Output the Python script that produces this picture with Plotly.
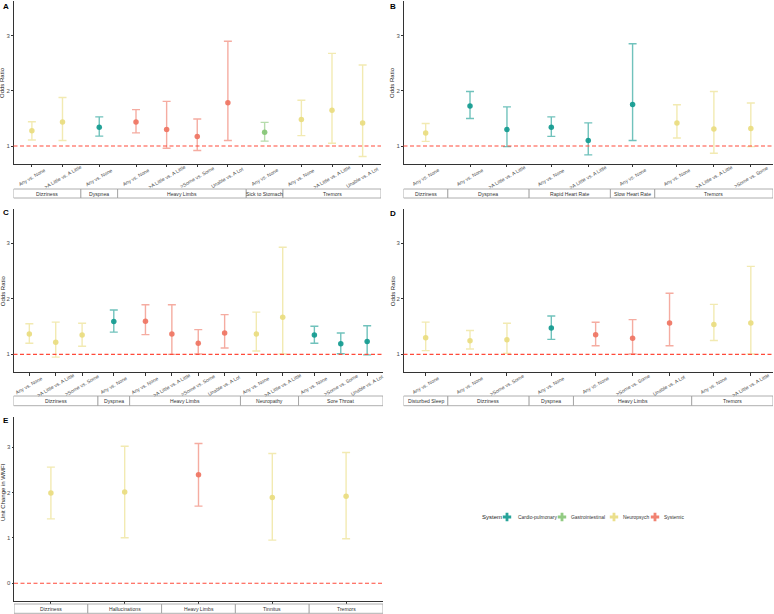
import plotly.graph_objects as go

W, H = 774, 614

# ---------------- DATA ----------------
A_symptom = ["Dizziness", "Dizziness", "Dyspnea", "Heavy Limbs", "Heavy Limbs", "Heavy Limbs", "Heavy Limbs",
             "Sick to Stomach", "Tremors", "Tremors", "Tremors"]
A_contrast = ["Any vs. None", ">A Little vs. A Little", "Any vs. None", "Any vs. None", ">A Little vs. A Little",
              ">Some vs. Some", "Unable vs. A Lot", "Any vs. None", "Any vs. None", ">A Little vs. A Little",
              "Unable vs. A Lot"]
A_est = [1.28, 1.435, 1.34, 1.435, 1.30, 1.175, 1.785, 1.25, 1.48, 1.65, 1.42]
A_lo = [1.11, 1.10, 1.18, 1.24, 0.96, 0.92, 1.10, 1.09, 1.19, 1.05, 0.81]
A_hi = [1.44, 1.88, 1.53, 1.66, 1.81, 1.49, 2.90, 1.43, 1.83, 2.68, 2.47]
A_system = ["Neuropsych", "Neuropsych", "Cardio-pulmonary", "Systemic", "Systemic", "Systemic", "Systemic",
            "Gastrointestinal", "Neuropsych", "Neuropsych", "Neuropsych"]

B_symptom = ["Dizziness", "Dyspnea", "Dyspnea", "Rapid Heart Rate", "Rapid Heart Rate", "Slow Heart Rate",
             "Tremors", "Tremors", "Tremors"]
B_contrast = ["Any vs. None", "Any vs. None", ">A Little vs. A Little", "Any vs. None", ">A Little vs. A Little",
              "Any vs. None", "Any vs. None", ">A Little vs. A Little", ">Some vs. Some"]
B_est = [1.235, 1.725, 1.30, 1.34, 1.10, 1.755, 1.42, 1.31, 1.32]
B_lo = [1.085, 1.50, 0.99, 1.175, 0.84, 1.10, 1.145, 0.87, 0.99]
B_hi = [1.41, 1.99, 1.71, 1.53, 1.42, 2.855, 1.75, 1.99, 1.78]
B_system = ["Neuropsych", "Cardio-pulmonary", "Cardio-pulmonary", "Cardio-pulmonary", "Cardio-pulmonary",
            "Cardio-pulmonary", "Neuropsych", "Neuropsych", "Neuropsych"]

C_symptom = ["Dizziness", "Dizziness", "Dizziness", "Dyspnea", "Heavy Limbs", "Heavy Limbs", "Heavy Limbs",
             "Heavy Limbs", "Neuropathy", "Neuropathy", "Sore Throat", "Sore Throat", "Sore Throat"]
C_contrast = ["Any vs. None", ">A Little vs. A Little", ">Some vs. Some", "Any vs. None", "Any vs. None",
              ">A Little vs. A Little", ">Some vs. Some", "Unable vs. A Lot", "Any vs. None",
              ">A Little vs. A Little", "Any vs. None", ">Some vs. Some", "Unable vs. A Lot"]
C_est = [1.366, 1.22, 1.35, 1.59, 1.595, 1.366, 1.20, 1.385, 1.366, 1.667, 1.35, 1.19, 1.23]
C_lo = [1.20, 0.95, 1.145, 1.40, 1.355, 1.00, 1.005, 1.115, 1.06, 1.005, 1.20, 1.01, 0.99]
C_hi = [1.55, 1.58, 1.56, 1.80, 1.895, 1.895, 1.445, 1.715, 1.76, 2.93, 1.505, 1.385, 1.515]
C_system = ["Neuropsych", "Neuropsych", "Neuropsych", "Cardio-pulmonary", "Systemic", "Systemic", "Systemic",
            "Systemic", "Neuropsych", "Neuropsych", "Cardio-pulmonary", "Cardio-pulmonary", "Cardio-pulmonary"]

D_symptom = ["Disturbed Sleep", "Dizziness", "Dizziness", "Dyspnea", "Heavy Limbs", "Heavy Limbs", "Heavy Limbs",
             "Tremors", "Tremors"]
D_contrast = ["Any vs. None", "Any vs. None", ">Some vs. Some", "Any vs. None", "Any vs. None", ">Some vs. Some",
              "Unable vs. A Lot", "Any vs. None", ">A Little vs. A Little"]
D_est = [1.30, 1.246, 1.264, 1.474, 1.354, 1.29, 1.565, 1.54, 1.565]
D_lo = [1.066, 1.096, 1.018, 1.27, 1.156, 1.006, 1.156, 1.25, 1.006]
D_hi = [1.58, 1.43, 1.56, 1.69, 1.577, 1.625, 2.10, 1.90, 2.586]
D_system = ["Neuropsych", "Neuropsych", "Neuropsych", "Cardio-pulmonary", "Systemic", "Systemic", "Systemic",
            "Neuropsych", "Neuropsych"]

E_symptom = ["Dizziness", "Hallucinations", "Heavy Limbs", "Tinnitus", "Tremors"]
E_contrast = ["", "", "", "", ""]
E_est = [1.99, 2.01, 2.39, 1.89, 1.92]
E_lo = [1.42, 1.005, 1.70, 0.95, 0.98]
E_hi = [2.56, 3.02, 3.08, 2.86, 2.88]
E_system = ["Neuropsych", "Neuropsych", "Systemic", "Neuropsych", "Neuropsych"]

systems = ["Cardio-pulmonary", "Gastrointestinal", "Neuropsych", "Systemic"]
sys_rgb = {"Cardio-pulmonary": (17, 154, 143), "Gastrointestinal": (134, 197, 117),
           "Neuropsych": (233, 220, 127), "Systemic": (239, 116, 98)}

# ---------------- LAYOUT GEOMETRY (pixels) ----------------
panels = [
    dict(name="A", sym=A_symptom, con=A_contrast, est=A_est, lo=A_lo, hi=A_hi, sys=A_system,
         x0=13.5, x1=381, y0=1, y1=164, s0=189, s1=198, yr=[0.675, 3.63], ticks=[1, 2, 3], ref=1,
         ytitle="Odds Ratio", lab=(0.5, 0), labels=True),
    dict(name="B", sym=B_symptom, con=B_contrast, est=B_est, lo=B_lo, hi=B_hi, sys=B_system,
         x0=403.5, x1=773, y0=1, y1=164, s0=189, s1=198, yr=[0.675, 3.63], ticks=[1, 2, 3], ref=1,
         ytitle="Odds Ratio", lab=(388, 0), labels=True),
    dict(name="C", sym=C_symptom, con=C_contrast, est=C_est, lo=C_lo, hi=C_hi, sys=C_system,
         x0=13.5, x1=383, y0=209, y1=372.3, s0=396, s1=405.7, yr=[0.676, 3.62], ticks=[1, 2, 3], ref=1,
         ytitle="Odds Ratio", lab=(0.5, 206), labels=True),
    dict(name="D", sym=D_symptom, con=D_contrast, est=D_est, lo=D_lo, hi=D_hi, sys=D_system,
         x0=403.5, x1=773, y0=209, y1=372.3, s0=396, s1=405.7, yr=[0.676, 3.62], ticks=[1, 2, 3], ref=1,
         ytitle="Odds Ratio", lab=(388, 207), labels=True),
    dict(name="E", sym=E_symptom, con=E_contrast, est=E_est, lo=E_lo, hi=E_hi, sys=E_system,
         x0=14, x1=383, y0=416.7, y1=601, s0=604, s1=613.3, yr=[-0.39, 3.67], ticks=[0, 1, 2, 3], ref=0,
         ytitle="Unit Change in WMFI", lab=(0.5, 414), labels=False, ytc=492),
]


def px(x):
    return x / W


def py(y):
    return 1 - y / H


fig = go.Figure()
shapes = []
annotations = []
PAD = 0.6

for i, p in enumerate(panels):
    n = i + 1
    xa = "x" if n == 1 else f"x{n}"
    ya = "y" if n == 1 else f"y{n}"
    # facet grouping, ggplot free-space style
    facets = []
    for s in p["sym"]:
        if not facets or facets[-1][0] != s:
            facets.append([s, 0])
        facets[-1][1] += 1
    pos = []
    fac_bounds = []
    cur = 0.0
    for name, k in facets:
        start = cur
        for j in range(k):
            pos.append(start + PAD + j)
        cur = start + (k - 1) + 2 * PAD
        fac_bounds.append((name, start, cur))
    total = cur

    for s in systems:
        idx = [j for j, v in enumerate(p["sys"]) if v == s]
        if not idx:
            continue
        r, g, b = sys_rgb[s]
        fig.add_trace(go.Scatter(
            x=[pos[j] for j in idx], y=[p["est"][j] for j in idx],
            mode="markers", xaxis=xa, yaxis=ya, showlegend=False,
            marker=dict(size=5.5, color=f"rgba({r},{g},{b},0.92)"),
            error_y=dict(type="data", symmetric=False,
                         array=[p["hi"][j] - p["est"][j] for j in idx],
                         arrayminus=[p["est"][j] - p["lo"][j] for j in idx],
                         color=f"rgba({r},{g},{b},0.6)", thickness=1.4, width=4),
            hoverinfo="skip"))

    fig.layout[("xaxis" if n == 1 else f"xaxis{n}")] = dict(
        domain=[px(p["x0"]), px(p["x1"])], anchor=ya, range=[0, total],
        showgrid=False, zeroline=False, showline=True, linecolor="#333333", linewidth=0.9,
        tickvals=pos, ticktext=[""] * len(pos), ticks="outside", ticklen=2.5, tickcolor="#333333",
        tickwidth=0.8, fixedrange=True)
    fig.layout[("yaxis" if n == 1 else f"yaxis{n}")] = dict(
        domain=[py(p["y1"]), py(p["y0"])], anchor=xa, range=p["yr"],
        showgrid=False, zeroline=False, showline=True, linecolor="#333333", linewidth=0.9,
        tickvals=p["ticks"], ticks="outside", ticklen=1.5, tickcolor="#333333", tickwidth=0.8,
        tickfont=dict(size=6, color="#4d4d4d"), fixedrange=True)

    # reference line
    shapes.append(dict(type="line", xref=f"{xa} domain", yref=ya, x0=0, x1=1, y0=p["ref"], y1=p["ref"],
                       line=dict(color="#FF4A3A", width=1.1, dash="4px,2.5px")))
    # strips
    for name, a, b in fac_bounds:
        shapes.append(dict(type="rect", xref=xa, yref="paper", x0=a, x1=b, y0=py(p["s1"]), y1=py(p["s0"]),
                           line=dict(color="#9a9a9a", width=0.8), fillcolor="white"))
        annotations.append(dict(xref=xa, yref="paper", x=(a + b) / 2, y=py((p["s0"] + p["s1"]) / 2),
                                text=name, showarrow=False, font=dict(size=5.1, color="#333333"),
                                xanchor="center", yanchor="middle"))
    # rotated x tick labels
    if p["labels"]:
        for x, t in zip(pos, p["con"]):
            annotations.append(dict(xref=xa, yref="paper", x=x, y=py(p["y1"] + 13.2), text=t,
                                    textangle=-30, showarrow=False, font=dict(size=5, color="#555555"),
                                    xanchor="center", yanchor="middle"))
    # y title
    ytc = p.get("ytc", (p["y0"] + p["y1"]) / 2)
    annotations.append(dict(xref="paper", yref="paper", x=px(p["x0"] - 11), y=py(ytc),
                            text=p["ytitle"], textangle=-90, showarrow=False,
                            font=dict(size=6, color="#222222"), xanchor="center", yanchor="middle"))
    # panel letter
    annotations.append(dict(xref="paper", yref="paper", x=px(p["lab"][0]), y=py(p["lab"][1]),
                            text=f"<b>{p['name']}</b>", showarrow=False, font=dict(size=8, color="#000000"),
                            xanchor="left", yanchor="top"))

# ---------------- manual legend (small overlay axis in pixel units) ----------------
LX0, LX1, LY0, LY1 = 470, 700, 505, 530
fig.layout["xaxis6"] = dict(domain=[px(LX0), px(LX1)], range=[LX0, LX1], visible=False, fixedrange=True,
                            anchor="y6")
fig.layout["yaxis6"] = dict(domain=[py(LY1), py(LY0)], range=[LY1, LY0], visible=False, fixedrange=True,
                            anchor="x6")
LEG_Y = 517
leg_marker_x = [507, 562, 614, 655]
leg_text_x = [515.5, 569, 621, 662]
annotations.append(dict(xref="paper", yref="paper", x=px(480.5), y=py(LEG_Y), text="System",
                        showarrow=False, font=dict(size=6, color="#222222"), xanchor="left", yanchor="middle"))
for s, mx, tx in zip(systems, leg_marker_x, leg_text_x):
    r, g, b = sys_rgb[s]
    fig.add_trace(go.Scatter(x=[mx], y=[LEG_Y], mode="markers", xaxis="x6", yaxis="y6", showlegend=False,
                             marker=dict(symbol="cross", size=7, color=f"rgba({r},{g},{b},0.9)"),
                             hoverinfo="skip"))
    annotations.append(dict(xref="paper", yref="paper", x=px(tx), y=py(LEG_Y), text=s, showarrow=False,
                            font=dict(size=4.9, color="#333333"), xanchor="left", yanchor="middle"))

fig.update_layout(
    width=W, height=H, margin=dict(l=0, r=0, t=0, b=0),
    paper_bgcolor="white", plot_bgcolor="rgba(0,0,0,0)",
    font=dict(family="Liberation Sans, Arial, sans-serif"),
    shapes=shapes, annotations=annotations,
    showlegend=False,
)

fig.write_html("out.html", config={"displayModeBar": False},
               post_script="document.body.style.margin='0px';document.body.style.overflow='hidden';")
